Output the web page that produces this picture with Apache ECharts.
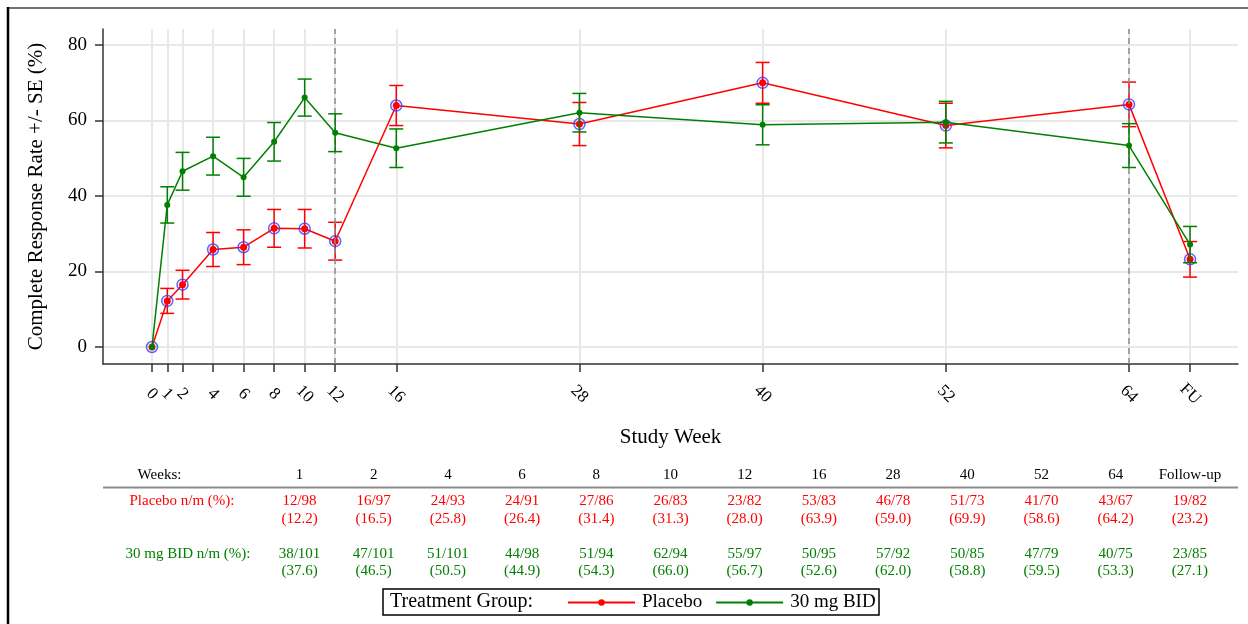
<!DOCTYPE html>
<html>
<head>
<meta charset="utf-8">
<script src="https://cdn.jsdelivr.net/npm/echarts@6/dist/echarts.min.js"></script>
<style>
html,body{margin:0;padding:0;background:#fff;}
#chart{width:1248px;height:624px;}
</style>
</head>
<body>
<div id="chart"></div>
<script>
// ---- data ----
var weeks = [0, 1, 2, 4, 6, 8, 10, 12, 16, 28, 40, 52, 64, 68];
var xTickLabels = ['0', '1', '2', '4', '6', '8', '10', '12', '16', '28', '40', '52', '64', 'FU'];
var yTicks = [0, 20, 40, 60, 80];
var placeboRate = [0, 12.2, 16.5, 25.8, 26.4, 31.4, 31.3, 28.0, 63.9, 59.0, 69.9, 58.6, 64.2, 23.2];
var placeboSE   = [0, 3.3, 3.8, 4.5, 4.6, 5.0, 5.1, 5.0, 5.3, 5.7, 5.4, 5.9, 5.9, 4.7];
var bidRate = [0, 37.6, 46.5, 50.5, 44.9, 54.3, 66.0, 56.7, 52.6, 62.0, 58.8, 59.5, 53.3, 27.1];
var bidSE   = [0, 4.8, 5.0, 5.0, 5.0, 5.1, 4.9, 5.0, 5.1, 5.1, 5.3, 5.5, 5.8, 4.8];
var refWeeks = [12, 64];

var tableWeeks = ['1', '2', '4', '6', '8', '10', '12', '16', '28', '40', '52', '64', 'Follow-up'];
var placeboNM = ['12/98', '16/97', '24/93', '24/91', '27/86', '26/83', '23/82', '53/83', '46/78', '51/73', '41/70', '43/67', '19/82'];
var placeboPct = ['12.2', '16.5', '25.8', '26.4', '31.4', '31.3', '28.0', '63.9', '59.0', '69.9', '58.6', '64.2', '23.2'];
var bidNM = ['38/101', '47/101', '51/101', '44/98', '51/94', '62/94', '55/97', '50/95', '57/92', '50/85', '47/79', '40/75', '23/85'];
var bidPct = ['37.6', '46.5', '50.5', '44.9', '54.3', '66.0', '56.7', '52.6', '62.0', '58.8', '59.5', '53.3', '27.1'];

// ---- styles ----
var FONT = '"Liberation Serif","Times New Roman",serif';
var RED = '#ff0000';
var GREEN = '#008000';
var BLUE = '#3a3aff';

function pairs(xs, ys) { return xs.map(function (x, i) { return [x, ys[i]]; }); }
function errData(xs, ys, se) {
  var out = [];
  xs.forEach(function (x, i) { if (se[i] > 0) out.push([x, ys[i] - se[i], ys[i] + se[i]]); });
  return out;
}
function errRender(color) {
  return function (params, api) {
    var x = api.value(0);
    var lo = api.coord([x, api.value(1)]);
    var hi = api.coord([x, api.value(2)]);
    var hw = 7;
    var st = { stroke: color, lineWidth: 1.5, fill: null };
    return {
      type: 'group',
      children: [
        { type: 'line', shape: { x1: lo[0], y1: lo[1], x2: hi[0], y2: hi[1] }, style: st },
        { type: 'line', shape: { x1: lo[0] - hw, y1: lo[1], x2: lo[0] + hw, y2: lo[1] }, style: st },
        { type: 'line', shape: { x1: hi[0] - hw, y1: hi[1], x2: hi[0] + hw, y2: hi[1] }, style: st }
      ]
    };
  };
}

// ---- frame + table graphics ----
var graphics = [];
graphics.push({ type: 'line', shape: { x1: 8, y1: 8, x2: 1248, y2: 8 }, style: { stroke: '#444', lineWidth: 1.5 }, silent: true });
graphics.push({ type: 'line', shape: { x1: 8, y1: 7, x2: 8, y2: 624 }, style: { stroke: '#000', lineWidth: 2.5 }, silent: true });
var colX0 = 299.5, colDX = 74.2;
var tStyle = function (txt, x, y, color, align) {
  return { type: 'text', x: x, y: y, style: { text: txt, font: '15px ' + FONT, fill: color, align: align || 'center', verticalAlign: 'middle' }, silent: true };
};
graphics.push(tStyle('Weeks:', 159.5, 475.5, '#000'));
graphics.push(tStyle('Placebo n/m (%):', 182, 501.5, RED));
graphics.push(tStyle('30 mg BID n/m (%):', 188, 554, GREEN));
tableWeeks.forEach(function (w, i) {
  var x = colX0 + i * colDX;
  graphics.push(tStyle(w, x, 475.5, '#000'));
  graphics.push(tStyle(placeboNM[i], x, 501.5, RED));
  graphics.push(tStyle('(' + placeboPct[i] + ')', x, 519.5, RED));
  graphics.push(tStyle(bidNM[i], x, 554, GREEN));
  graphics.push(tStyle('(' + bidPct[i] + ')', x, 571.5, GREEN));
});
graphics.push({ type: 'line', shape: { x1: 103, y1: 487.5, x2: 1238, y2: 487.5 }, style: { stroke: '#8c8c8c', lineWidth: 2 }, silent: true });
// legend box + title
graphics.push({ type: 'rect', shape: { x: 383, y: 589, width: 496, height: 26 }, style: { fill: null, stroke: '#000', lineWidth: 1.5 }, silent: true });
graphics.push({ type: 'text', x: 390, y: 602, style: { text: 'Treatment Group:', font: '20px ' + FONT, fill: '#000', align: 'left', verticalAlign: 'middle' }, silent: true });

var chart = echarts.init(document.getElementById('chart'), null, { renderer: 'canvas' });
var option = {
  animation: false,
  backgroundColor: '#fff',
  textStyle: { fontFamily: FONT },
  grid: { left: 103, right: 10, top: 29, bottom: 260, containLabel: false, outerBoundsMode: 'none' },
  legend: {
    data: ['Placebo', '30 mg BID'],
    left: 567, top: 593, padding: 0,
    itemWidth: 67, itemHeight: 8, itemGap: 13,
    selectedMode: false,
    textStyle: { fontFamily: FONT, fontSize: 19, color: '#000', padding: [0, 0, 0, 2] }
  },
  xAxis: {
    type: 'value', min: -3.21, max: 71.14,
    name: 'Study Week', nameLocation: 'middle', nameGap: 63,
    nameTextStyle: { fontFamily: FONT, fontSize: 21, color: '#000' },
    axisLine: { show: true, onZero: false, lineStyle: { color: '#333', width: 1.5 } },
    axisTick: { show: true, length: 8, customValues: weeks, lineStyle: { color: '#333', width: 1.5 } },
    axisLabel: {
      customValues: weeks, rotate: -45, align: 'center', verticalAlign: 'middle', margin: 30,
      fontFamily: FONT, fontSize: 17, color: '#000', hideOverlap: false,
      formatter: function (v) { var i = weeks.indexOf(v); return i >= 0 ? xTickLabels[i] : ''; }
    },
    splitLine: { show: true, lineStyle: { color: '#e8e8e8', width: 2 } }
  },
  yAxis: {
    type: 'value', min: -4.5, max: 84.15,
    name: 'Complete Response Rate +/- SE (%)', nameLocation: 'middle', nameGap: 56, nameRotate: 90,
    nameTextStyle: { fontFamily: FONT, fontSize: 21, color: '#000' },
    axisLine: { show: true, onZero: false, lineStyle: { color: '#333', width: 1.5 } },
    axisTick: { show: true, length: 8, customValues: yTicks, lineStyle: { color: '#333', width: 1.5 } },
    axisLabel: { customValues: yTicks, margin: 16, fontFamily: FONT, fontSize: 19, color: '#000' },
    splitLine: { show: true, lineStyle: { color: '#e8e8e8', width: 2 } }
  },
  graphic: graphics,
  series: [
    {
      name: 'ref', type: 'line', data: [], silent: true,
      markLine: {
        silent: true, symbol: ['none', 'none'], label: { show: false },
        lineStyle: { color: '#8a8a8a', type: [6, 4], width: 1.5 },
        data: refWeeks.map(function (w) { return { xAxis: w }; })
      }
    },
    {
      name: 'placeboErr', type: 'custom', data: errData(weeks, placeboRate, placeboSE),
      renderItem: errRender(RED), encode: { x: 0, y: [1, 2] }, silent: true, z: 3
    },
    {
      name: 'Placebo', type: 'line', data: pairs(weeks, placeboRate),
      symbol: 'circle', symbolSize: 7, showAllSymbol: true,
      lineStyle: { color: RED, width: 1.5 }, itemStyle: { color: RED }, z: 4
    },
    {
      name: 'placeboRing', type: 'scatter', data: pairs(weeks, placeboRate),
      symbol: 'circle', symbolSize: 11,
      itemStyle: { color: 'rgba(0,0,0,0)', borderColor: BLUE, borderWidth: 1.5 }, z: 5, silent: true
    },
    {
      name: 'bidErr', type: 'custom', data: errData(weeks, bidRate, bidSE),
      renderItem: errRender(GREEN), encode: { x: 0, y: [1, 2] }, silent: true, z: 6
    },
    {
      name: '30 mg BID', type: 'line', data: pairs(weeks, bidRate),
      symbol: 'circle', symbolSize: 6, showAllSymbol: true,
      lineStyle: { color: GREEN, width: 1.5 }, itemStyle: { color: GREEN }, z: 7
    }
  ]
};
chart.setOption(option);
</script>
</body>
</html>
